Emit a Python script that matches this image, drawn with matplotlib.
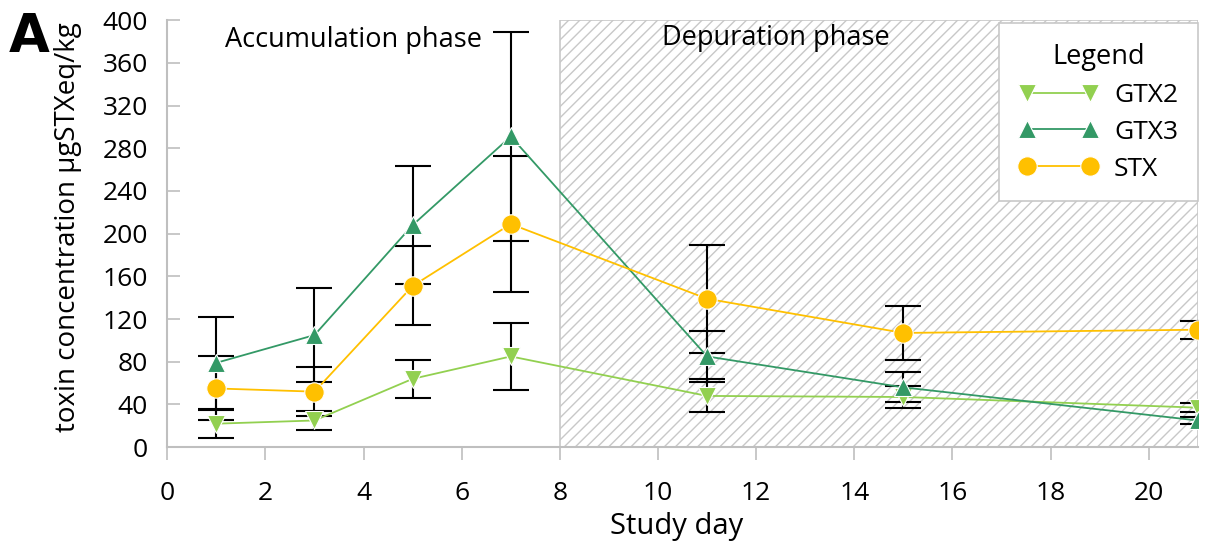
import matplotlib
matplotlib.use("Agg")
import matplotlib.pyplot as plt
import numpy as np

plt.rcParams['font.family'] = ['Open Sans', 'DejaVu Sans']
plt.rcParams['hatch.color'] = '#c8c8c8'
plt.rcParams['hatch.linewidth'] = 1.0

days = [1, 3, 5, 7, 11, 15, 21]
gtx2 = [22, 25, 64, 85, 48, 47, 37]
gtx2_err = [13, 8.5, 18, 31.5, 15.5, 10, 4]
gtx3 = [79, 105, 208, 291, 85, 56, 25]
gtx3_err = [43, 44, 55, 97.5, 24, 14, 3]
stx = [55, 52, 151, 209, 139, 107, 110]
stx_err = [30, 23, 37, 64, 50.5, 25.5, 8.5]

c_gtx2 = '#92d050'
c_gtx3 = '#339966'
c_stx = '#ffc000'

fig = plt.figure(figsize=(12.21, 5.44), dpi=100)
ax = fig.add_axes([0.137, 0.178, 0.844, 0.785])

# shaded depuration period
ax.axvspan(8, 21, ymin=0, ymax=1, facecolor='white', edgecolor='#c8c8c8',
           hatch='///', lw=1.2, zorder=0)

ekw = dict(ecolor='black', elinewidth=1.5, capsize=13, capthick=1.5, zorder=2)
ax.errorbar(days, gtx2, yerr=gtx2_err, fmt='none', **ekw)
ax.errorbar(days, gtx3, yerr=gtx3_err, fmt='none', **ekw)
ax.errorbar(days, stx, yerr=stx_err, fmt='none', **ekw)

ax.plot(days, gtx2, color=c_gtx2, lw=1.3, marker='v', ms=13, mec='white', mew=0.8,
        label='GTX2', zorder=3)
ax.plot(days, gtx3, color=c_gtx3, lw=1.3, marker='^', ms=13, mec='white', mew=0.8,
        label='GTX3', zorder=3)
ax.plot(days, stx, color=c_stx, lw=1.3, marker='o', ms=14, mec='white', mew=0.8,
        label='STX', zorder=3)

ax.set_xlim(0, 21)
ax.set_ylim(0, 400)
ax.set_xticks(np.arange(0, 21, 2))
ax.set_yticks(np.arange(0, 401, 40))

for s in ['top', 'right']:
    ax.spines[s].set_visible(False)
for s in ['left', 'bottom']:
    ax.spines[s].set_color('#bfbfbf')
    ax.spines[s].set_linewidth(1.5)
ax.tick_params(axis='y', direction='in', length=9, width=1.2, color='#bfbfbf',
               labelsize=19, pad=14)
ax.tick_params(axis='x', direction='out', length=9, width=1.2, color='#bfbfbf',
               labelsize=19, pad=15)

ax.set_xlabel('Study day', fontsize=21)
ax.xaxis.set_label_coords(0.494, -0.152)
ax.set_ylabel('toxin concentration µgSTXeq/kg', fontsize=20)
ax.yaxis.set_label_coords(-0.083, 0.515)

ax.text(3.8, 381, 'Accumulation phase', ha='center', va='center', fontsize=19.5)
ax.text(12.4, 383, 'Depuration phase', ha='center', va='center', fontsize=19.5)

leg = ax.legend(loc='upper right', bbox_to_anchor=(1.0, 0.993), numpoints=2,
                title='Legend', fontsize=19, title_fontsize=19.5, fancybox=False,
                framealpha=1, edgecolor='#c8c8c8', borderpad=0.75, labelspacing=0.45,
                handlelength=3.0, handletextpad=0.6, borderaxespad=0)
leg.get_frame().set_linewidth(1.2)

fig.text(0.007, 0.905, 'A', fontsize=38, fontweight='bold', family='DejaVu Sans')

fig.savefig('out.png', dpi=100)
